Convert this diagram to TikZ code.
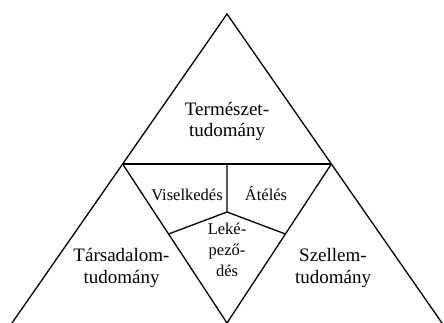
\documentclass[tikz,border=0pt]{standalone}
\usepackage{fontspec}
\setmainfont{Liberation Serif}
\usetikzlibrary{calc}
\begin{document}
\begin{tikzpicture}[x=1pt,y=-1pt,line width=1.3pt,line join=miter,
  big/.style={font=\fontsize{19}{21.7}\selectfont,align=center,inner sep=0pt},
  small/.style={font=\fontsize{16.5}{20.8}\selectfont,align=center,inner sep=0pt}]
\useasboundingbox (0,0) rectangle (444,323);
\coordinate (apex) at (227,14);
\coordinate (bl) at (12,323);
\coordinate (br) at (442,323);
\coordinate (il) at ($(apex)!150/309!(bl)$);
\coordinate (ir) at ($(apex)!150/309!(br)$);
\coordinate (ib) at (227,323);
\coordinate (c) at (227,212);
\coordinate (tm) at ($(il)!0.5!(ir)$);
\coordinate (lm) at ($(il)!70/159!(ib)$);
\coordinate (rm) at ($(ir)!70/159!(ib)$);
\draw (bl) -- (apex) -- (br);
\draw (il) -- (ir);
\draw (il) -- (ib) -- (ir);
\draw (tm) -- (c);
\draw (lm) -- (c) -- (rm);
\node[big] (termeszet) at (227,121.3) {Természet-\\tudomány};
\node[big] (tarsadalom) at (121.5,268) {Társadalom-\\tudomány};
\node[big] (szellem) at (333,268) {Szellem-\\tudomány};
\node[small,anchor=base] (viselkedes) at (187,200.7) {Viselkedés};
\node[small,anchor=base] (ateles) at (266,200.7) {Átélés};
\node[small] (lekepezodes) at (227,250) {Leké-\\pező-\\dés};
\end{tikzpicture}
\end{document}
